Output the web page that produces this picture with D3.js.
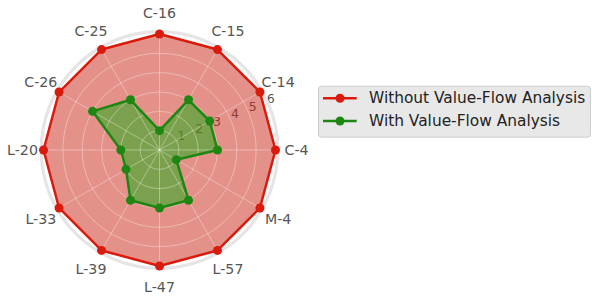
<!DOCTYPE html>
<html>
<head>
<meta charset="utf-8">
<script src="https://cdn.jsdelivr.net/npm/d3@7"></script>
<style>
  html, body { margin: 0; padding: 0; background: #fff; }
  svg { display: block; font-family: "DejaVu Sans", sans-serif; }
</style>
</head>
<body>
<svg id="chart" width="592" height="297"></svg>
<script>
const categories = ["C-16", "C-15", "C-14", "C-4", "M-4", "L-57", "L-47", "L-39", "L-33", "L-20", "C-26", "C-25"];
const withoutVFA = [6, 6, 6, 6, 6, 6, 6, 6, 6, 6, 6, 6];
const withVFA = [1, 3, 3, 3, 1, 3, 3, 3, 2, 2, 4, 3];
const radialTicks = [1, 2, 3, 4, 5, 6];
const seriesNames = ["Without Value-Flow Analysis", "With Value-Flow Analysis"];

const svg = d3.select("#chart");
const cx = 159.5, cy = 150;
const rMax = 6.12;
const r = d3.scaleLinear().domain([0, rMax]).range([0, 118.3]);
const angle = d3.scaleLinear().domain([0, categories.length]).range([0, 2 * Math.PI]);

const g = svg.append("g").attr("transform", `translate(${cx},${cy})`);

// background
g.append("circle").attr("r", r(rMax)).attr("fill", "#ffffff");

// radial tick labels (below fills)
const labAng = (90 - 22.5) * Math.PI / 180;
g.append("g").selectAll("text").data(radialTicks).join("text")
  .attr("x", d => r(d) * Math.sin(labAng))
  .attr("y", d => -r(d) * Math.cos(labAng) - 2.2)
  .attr("font-size", 12.5)
  .attr("fill", "#555555")
  .attr("text-anchor", "start")
  .text(d => d);

const line = d3.lineRadial()
  .angle((d, i) => angle(i))
  .radius(d => r(d))
  .curve(d3.curveLinearClosed);

const colors = ["rgb(218,26,12)", "rgb(30,135,18)"];
const fills = ["rgba(200,35,20,0.5)", "rgba(40,175,30,0.55)"];
const data = [withoutVFA, withVFA];

// fills
data.forEach((vals, k) => {
  g.append("path").attr("d", line(vals)).attr("fill", fills[k]).attr("stroke", "none");
});

// grid on top of fills
const grid = g.append("g").attr("stroke", "rgba(255,255,255,0.35)").attr("fill", "none").attr("stroke-width", 1);
grid.selectAll("circle").data(radialTicks).join("circle").attr("r", d => r(d));
grid.selectAll("line").data(categories).join("line")
  .attr("x1", 0).attr("y1", 0)
  .attr("x2", (d, i) => r(rMax) * Math.sin(angle(i)))
  .attr("y2", (d, i) => -r(rMax) * Math.cos(angle(i)));

// outer ring
g.append("circle").attr("r", r(rMax)).attr("fill", "none").attr("stroke", "#e5e5e5").attr("stroke-width", 3.2);

// lines + markers
data.forEach((vals, k) => {
  g.append("path").attr("d", line(vals)).attr("fill", "none")
    .attr("stroke", colors[k]).attr("stroke-width", 2.5).attr("stroke-linejoin", "round");
  g.append("g").selectAll("circle").data(vals).join("circle")
    .attr("cx", (d, i) => r(d) * Math.sin(angle(i)))
    .attr("cy", (d, i) => -r(d) * Math.cos(angle(i)))
    .attr("r", 4.5)
    .attr("fill", colors[k]);
});

// category labels
g.append("g").selectAll("text").data(categories).join("text")
  .attr("x", (d, i) => 137 * Math.sin(angle(i)))
  .attr("y", (d, i) => -137 * Math.cos(angle(i)))
  .attr("text-anchor", "middle")
  .attr("dominant-baseline", "central")
  .attr("font-size", 14.2)
  .attr("fill", "#555555")
  .text(d => d);

// legend
const lg = svg.append("g").attr("transform", "translate(318,85.7)");
lg.append("rect").attr("x", 0.5).attr("y", 0.5).attr("width", 272).attr("height", 51)
  .attr("rx", 3).attr("fill", "#e8e8e8").attr("stroke", "#cccccc").attr("stroke-width", 1);
seriesNames.forEach((name, k) => {
  const y = 12.6 + k * 22.7;
  lg.append("line").attr("x1", 5).attr("x2", 38.7).attr("y1", y).attr("y2", y)
    .attr("stroke", colors[k]).attr("stroke-width", 2.5);
  lg.append("circle").attr("cx", 22).attr("cy", y).attr("r", 4.5).attr("fill", colors[k]);
  lg.append("text").attr("x", 51).attr("y", y).attr("dominant-baseline", "central")
    .attr("font-size", 15.4).attr("fill", "#222222").text(name);
});
</script>
</body>
</html>
